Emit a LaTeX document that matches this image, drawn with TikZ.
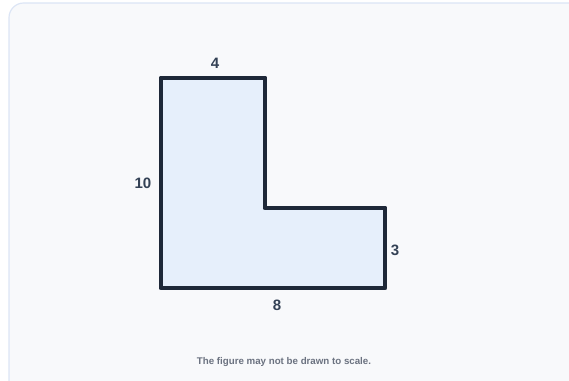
\documentclass[tikz,border=0pt]{standalone}
\usepackage{fontspec}
\setmainfont{Liberation Sans}

\definecolor{panelbg}{HTML}{F8F9FB}
\definecolor{panelrule}{HTML}{DCE5F5}
\definecolor{shapefill}{HTML}{E6EFFB}
\definecolor{shapeline}{HTML}{1E2838}
\definecolor{labeltext}{HTML}{334155}
\definecolor{notetext}{HTML}{6B7280}

\tikzset{
  sidelabel/.style={text=labeltext, font=\bfseries\fontsize{11.3}{13}\selectfont, inner sep=0pt},
  notelabel/.style={text=notetext, font=\bfseries\fontsize{7.3}{9}\selectfont, inner sep=0pt}
}

\begin{document}
\begin{tikzpicture}[x=0.75pt,y=-0.75pt]
\useasboundingbox (0,0) rectangle (569,381);

\draw[fill=panelbg, draw=panelrule, line width=0.9pt, rounded corners=11pt]
  (9,3) rectangle (600,410);

% the L shape
\coordinate (tl) at (161,78);
\coordinate (tm) at (265,78);
\coordinate (mm) at (265,208);
\coordinate (mr) at (385,208);
\coordinate (br) at (385,288);
\coordinate (bl) at (161,288);

\draw[fill=shapefill, draw=shapeline, line width=3.7pt, line join=round]
  (tl) -- (tm) -- (mm) -- (mr) -- (br) -- (bl) -- cycle;

\node[sidelabel] (top) at (215,63) {4};
\node[sidelabel] (left) at (143,183) {10};
\node[sidelabel] (right) at (395,250) {3};
\node[sidelabel] (bottom) at (277,305) {8};

\node[notelabel] (note) at (284,362) {The figure may not be drawn to scale.};
\end{tikzpicture}
\end{document}
